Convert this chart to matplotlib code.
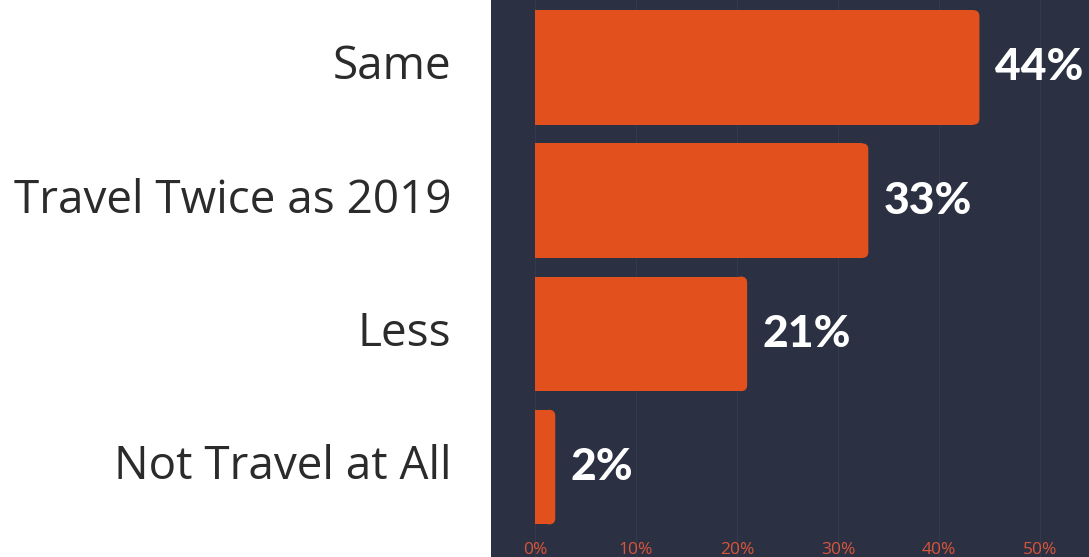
import matplotlib.pyplot as plt
from matplotlib.patches import FancyBboxPatch

categories = ['Same', 'Travel Twice as 2019', 'Less', 'Not Travel at All']
shares = [44, 33, 21, 2]
ticks = [0, 10, 20, 30, 40, 50]

panel = '#2b3142'
bar_color = '#e2501d'

fig = plt.figure(figsize=(10.89, 5.57), dpi=100)
fig.patch.set_facecolor('white')
ax = fig.add_axes([491 / 1089, 0, 598 / 1089, 1])
ax.set_facecolor(panel)

pos = list(range(len(categories)))
h = 0.86
# square-ended bars, rounded tip added on top
ax.barh(pos, [max(v - 0.6, 0.1) for v in shares], height=h, color=bar_color, zorder=2)
for y, v in zip(pos, shares):
    tip = FancyBboxPatch((max(v - 1.2, 0.05), y - h / 2), min(1.2, v - 0.05), h,
                         boxstyle='round,pad=0,rounding_size=0.6',
                         mutation_aspect=10.1 / 133.3,
                         fc=bar_color, ec='none', zorder=2)
    ax.add_patch(tip)
    ax.text(v + 1.5, y, f'{v}%', color='white', fontsize=32, fontweight='black',
            family='Lato', va='center', ha='left', zorder=3)

for t in ticks:
    ax.axvline(t, color='#333a4b', lw=0.8, zorder=1)
    ax.text(t, 3.62, f'{t}%', color='#d9553a', fontsize=12.5, family='Open Sans',
            ha='center', va='center', zorder=3)

ax.set_xlim(-4.36, 54.85)
ax.set_ylim(3.675, -0.506)
ax.set_xticks([])
ax.set_yticks([])
for s in ax.spines.values():
    s.set_visible(False)

# category names sit in the white margin to the left of the panel
for y, name in zip(pos, categories):
    ax.text(-8.3, y, name, color='#2b2b2b', fontsize=33, family='Open Sans',
            ha='right', va='center', clip_on=False)

fig.savefig('out.png', dpi=100, facecolor='white')
